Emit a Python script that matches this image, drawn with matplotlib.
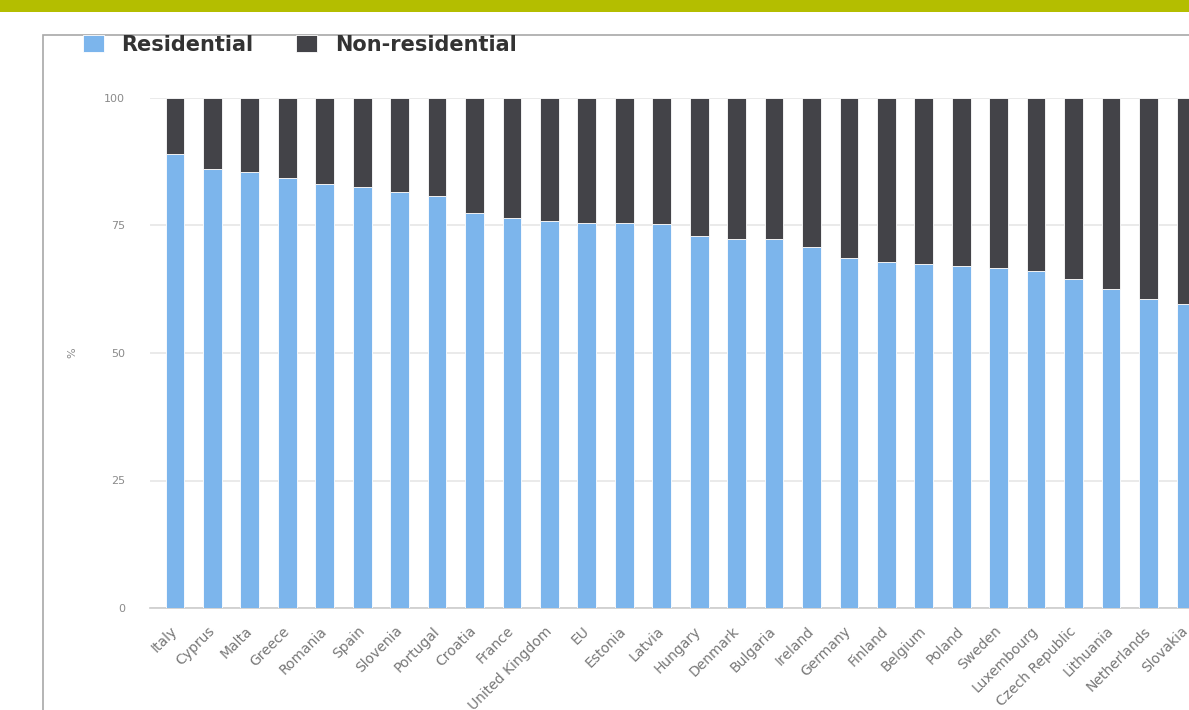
import matplotlib
matplotlib.use("Agg")
import matplotlib.pyplot as plt
from matplotlib.patches import Rectangle
import numpy as np

countries = ["Italy", "Cyprus", "Malta", "Greece", "Romania", "Spain", "Slovenia",
             "Portugal", "Croatia", "France", "United Kingdom", "EU", "Estonia",
             "Latvia", "Hungary", "Denmark", "Bulgaria", "Ireland", "Germany",
             "Finland", "Belgium", "Poland", "Sweden", "Luxembourg",
             "Czech Republic", "Lithuania", "Netherlands", "Slovakia"]
residential = [89.0, 86.1, 85.4, 84.3, 83.1, 82.6, 81.6, 80.8, 77.4, 76.4, 75.9,
               75.5, 75.5, 75.3, 72.9, 72.3, 72.3, 70.8, 68.6, 67.8, 67.5, 67.1,
               66.6, 66.1, 64.6, 62.5, 60.6, 59.6]
non_residential = [100 - v for v in residential]

W, H = 1189, 710
fig = plt.figure(figsize=(W / 100, H / 100), dpi=100)
fig.patch.set_facecolor("white")

# green band and outer frame of the screenshot
fig.add_artist(Rectangle((0, 1 - 12 / H), 1, 12 / H, transform=fig.transFigure,
                         facecolor="#b4be00", edgecolor="none"))
fig.add_artist(Rectangle((43 / W, -0.2), 2, 1.2 - 35 / H, transform=fig.transFigure,
                         fill=False, edgecolor="#a8a8a8", linewidth=1.2, zorder=5))

ax = fig.add_axes([150 / W, (H - 608) / H, (W - 150) / W, 510 / H])
x = np.arange(len(countries))
b1 = ax.bar(x, residential, width=0.5, color="#7cb5ec", edgecolor="white",
            linewidth=0.6, zorder=3, label="Residential")
b2 = ax.bar(x, non_residential, width=0.5, bottom=residential, color="#434348",
            edgecolor="white", linewidth=0.6, zorder=3, label="Non-residential")

ax.set_xlim(-0.667, (W - 175) / 37.44)
ax.set_ylim(0, 100)
ax.set_yticks([0, 25, 50, 75, 100])
ax.grid(axis="y", color="#e6e6e6", linewidth=1.2, zorder=0)
for s in ["top", "right", "left"]:
    ax.spines[s].set_visible(False)
ax.spines["bottom"].set_color("#cccccc")
ax.spines["bottom"].set_linewidth(1.2)

ax.tick_params(axis="y", length=0, pad=18, labelsize=8, labelcolor="#8a8a8a")
ax.tick_params(axis="x", length=0, pad=15, labelsize=10, labelcolor="#777777")
ax.set_xticks(x)
ax.set_xticklabels(countries, rotation=45, ha="right", va="center",
                   rotation_mode="anchor")
ax.set_ylabel("%", fontsize=8, color="#8a8a8a")
ax.yaxis.set_label_coords(-0.07, 0.5)

fig.legend(handles=[b1, b2], labels=["Residential", "Non-residential"],
           loc="upper left", bbox_to_anchor=(83 / W, 1 - 35 / H), ncol=2,
           frameon=False, prop={"weight": "bold", "size": 15},
           labelcolor="#333333", handlelength=1.0, handleheight=0.9,
           handletextpad=0.85, columnspacing=2.05, borderpad=0, borderaxespad=0)

fig.savefig("out.png", dpi=100)
